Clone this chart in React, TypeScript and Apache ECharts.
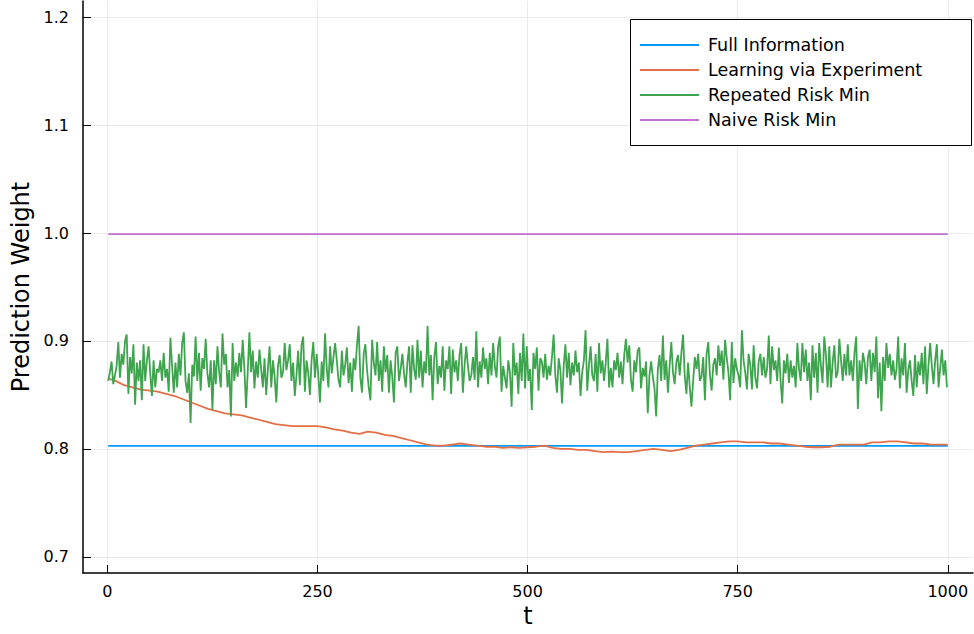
import React, { useEffect, useRef } from "react";
import * as echarts from "echarts";

const FONT = "DejaVu Sans";

const seriesNames = ["Full Information", "Learning via Experiment", "Repeated Risk Min", "Naive Risk Min"];
const seriesColors = ["#009AFA", "#E36F47", "#3EA44E", "#C271D2"];

const xTicks = [0, 250, 500, 750, 1000];
const yTicks = [0.7, 0.8, 0.9, 1.0, 1.1, 1.2];

const fullInfoT = [1, 1000];
const fullInfoV = [0.8027, 0.8027];

const naiveT = [1, 1000];
const naiveV = [0.999, 0.999];

const learningT = [
  1, 10, 20, 30, 40, 50, 60, 70, 80, 90, 100, 110, 120, 130, 140, 150, 160, 170, 180, 190,
  200, 210, 220, 230, 240, 250, 260, 270, 280, 290, 300, 310, 320, 330, 340, 350, 360, 370, 380, 390,
  400, 410, 420, 430, 440, 450, 460, 470, 480, 490, 500, 510, 520, 530, 540, 550, 560, 570, 580, 590,
  600, 610, 620, 630, 640, 650, 660, 670, 680, 690, 700, 710, 720, 730, 740, 750, 760, 770, 780, 790,
  800, 810, 820, 830, 840, 850, 860, 870, 880, 890, 900, 910, 920, 930, 940, 950, 960, 970, 980, 990, 1000,
];
const learningV = [
  0.865, 0.863, 0.859, 0.857, 0.855, 0.854, 0.853, 0.851, 0.849, 0.846, 0.843, 0.840, 0.837, 0.835, 0.833, 0.832, 0.831, 0.829, 0.827, 0.825,
  0.823, 0.822, 0.821, 0.821, 0.821, 0.821, 0.820, 0.818, 0.817, 0.815, 0.814, 0.816, 0.815, 0.813, 0.812, 0.810, 0.808, 0.806, 0.804, 0.803,
  0.803, 0.804, 0.805, 0.804, 0.803, 0.802, 0.802, 0.801, 0.8015, 0.801, 0.8015, 0.802, 0.803, 0.801, 0.800, 0.800, 0.799, 0.799, 0.798, 0.797,
  0.7975, 0.797, 0.797, 0.798, 0.799, 0.800, 0.799, 0.798, 0.799, 0.801, 0.803, 0.804, 0.805, 0.806, 0.807, 0.807, 0.806, 0.806, 0.806, 0.805,
  0.805, 0.804, 0.803, 0.802, 0.8015, 0.8015, 0.802, 0.804, 0.804, 0.804, 0.804, 0.806, 0.806, 0.807, 0.807, 0.806, 0.805, 0.805, 0.804, 0.804, 0.804,
];

// Repeated Risk Min read at t = 1, 3, 5, ..., 999
const repeatedFirstT = 1;
const repeatedStepT = 2;
const repeatedV = [
  0.863, 0.871, 0.881, 0.860, 0.868, 0.877, 0.899, 0.866, 0.888, 0.878,
  0.900, 0.906, 0.851, 0.885, 0.870, 0.897, 0.841, 0.880, 0.863, 0.882,
  0.845, 0.897, 0.863, 0.882, 0.895, 0.870, 0.849, 0.882, 0.857, 0.874,
  0.871, 0.882, 0.863, 0.889, 0.866, 0.874, 0.853, 0.903, 0.877, 0.852,
  0.880, 0.857, 0.888, 0.868, 0.898, 0.908, 0.863, 0.852, 0.870, 0.824,
  0.878, 0.867, 0.904, 0.863, 0.889, 0.854, 0.884, 0.874, 0.902, 0.870,
  0.857, 0.882, 0.836, 0.882, 0.860, 0.895, 0.871, 0.857, 0.907, 0.878,
  0.888, 0.857, 0.873, 0.830, 0.898, 0.863, 0.880, 0.867, 0.889, 0.871,
  0.901, 0.875, 0.838, 0.871, 0.908, 0.871, 0.891, 0.856, 0.881, 0.866,
  0.892, 0.874, 0.857, 0.884, 0.850, 0.874, 0.895, 0.857, 0.882, 0.867,
  0.843, 0.877, 0.887, 0.866, 0.871, 0.898, 0.873, 0.882, 0.897, 0.863,
  0.880, 0.849, 0.868, 0.891, 0.859, 0.896, 0.904, 0.853, 0.882, 0.871,
  0.850, 0.882, 0.899, 0.866, 0.888, 0.868, 0.843, 0.881, 0.863, 0.907,
  0.875, 0.857, 0.895, 0.870, 0.885, 0.898, 0.882, 0.864, 0.857, 0.891,
  0.868, 0.878, 0.894, 0.861, 0.880, 0.853, 0.884, 0.873, 0.896, 0.914,
  0.866, 0.852, 0.888, 0.897, 0.873, 0.857, 0.845, 0.901, 0.880, 0.868,
  0.899, 0.863, 0.882, 0.853, 0.895, 0.871, 0.887, 0.852, 0.882, 0.867,
  0.843, 0.889, 0.895, 0.863, 0.874, 0.888, 0.870, 0.857, 0.880, 0.895,
  0.852, 0.896, 0.874, 0.864, 0.901, 0.866, 0.891, 0.857, 0.881, 0.870,
  0.914, 0.868, 0.887, 0.845, 0.885, 0.899, 0.860, 0.877, 0.866, 0.895,
  0.854, 0.882, 0.874, 0.895, 0.851, 0.892, 0.871, 0.882, 0.863, 0.887,
  0.898, 0.852, 0.877, 0.895, 0.877, 0.863, 0.868, 0.885, 0.864, 0.909,
  0.857, 0.881, 0.866, 0.894, 0.874, 0.884, 0.860, 0.889, 0.868, 0.898,
  0.877, 0.866, 0.895, 0.904, 0.853, 0.877, 0.866, 0.856, 0.882, 0.871,
  0.839, 0.898, 0.868, 0.880, 0.851, 0.889, 0.863, 0.907, 0.856, 0.895,
  0.863, 0.874, 0.836, 0.889, 0.874, 0.894, 0.854, 0.884, 0.881, 0.866,
  0.888, 0.864, 0.877, 0.868, 0.885, 0.906, 0.868, 0.852, 0.884, 0.873,
  0.842, 0.877, 0.897, 0.866, 0.889, 0.859, 0.880, 0.868, 0.891, 0.871,
  0.880, 0.849, 0.871, 0.882, 0.910, 0.854, 0.877, 0.895, 0.868, 0.863,
  0.888, 0.853, 0.898, 0.870, 0.882, 0.863, 0.880, 0.902, 0.857, 0.875,
  0.857, 0.882, 0.873, 0.889, 0.866, 0.881, 0.860, 0.887, 0.902, 0.880,
  0.896, 0.864, 0.853, 0.882, 0.871, 0.891, 0.894, 0.856, 0.875, 0.867,
  0.881, 0.833, 0.868, 0.881, 0.867, 0.856, 0.830, 0.874, 0.887, 0.863,
  0.905, 0.864, 0.882, 0.852, 0.877, 0.899, 0.871, 0.860, 0.880, 0.887,
  0.868, 0.889, 0.906, 0.868, 0.851, 0.880, 0.857, 0.839, 0.863, 0.885,
  0.874, 0.888, 0.863, 0.867, 0.885, 0.845, 0.888, 0.899, 0.868, 0.854,
  0.878, 0.884, 0.868, 0.896, 0.877, 0.891, 0.864, 0.901, 0.884, 0.871,
  0.845, 0.899, 0.861, 0.884, 0.874, 0.868, 0.857, 0.910, 0.882, 0.871,
  0.855, 0.888, 0.878, 0.855, 0.896, 0.866, 0.856, 0.881, 0.888, 0.868,
  0.885, 0.866, 0.874, 0.905, 0.860, 0.895, 0.873, 0.882, 0.863, 0.894,
  0.864, 0.842, 0.882, 0.870, 0.888, 0.861, 0.882, 0.866, 0.877, 0.857,
  0.898, 0.874, 0.863, 0.898, 0.871, 0.892, 0.863, 0.880, 0.845, 0.896,
  0.866, 0.889, 0.852, 0.898, 0.877, 0.861, 0.904, 0.887, 0.857, 0.895,
  0.857, 0.880, 0.896, 0.866, 0.871, 0.902, 0.882, 0.863, 0.888, 0.868,
  0.897, 0.868, 0.882, 0.863, 0.889, 0.904, 0.837, 0.882, 0.863, 0.889,
  0.880, 0.860, 0.885, 0.892, 0.863, 0.889, 0.871, 0.904, 0.847, 0.880,
  0.835, 0.885, 0.863, 0.898, 0.875, 0.888, 0.868, 0.882, 0.864, 0.874,
  0.904, 0.856, 0.884, 0.868, 0.898, 0.852, 0.873, 0.882, 0.863, 0.849,
  0.887, 0.857, 0.881, 0.868, 0.889, 0.860, 0.895, 0.851, 0.877, 0.898,
  0.877, 0.860, 0.882, 0.897, 0.857, 0.875, 0.892, 0.868, 0.882, 0.857,
];

const xMin = -29;
const xMax = 1030;
const yMin = 0.685;
const yMax = 1.215;

function pairs(ts: number[], vs: number[]) {
  return vs.map((v, i) => [ts[i], v]);
}

export default function App() {
  const ref = useRef<HTMLDivElement>(null);

  useEffect(() => {
    if (!ref.current) return;
    const chart = echarts.init(ref.current, null, { renderer: "svg" });

    const repeatedData = repeatedV.map((v, i) => [repeatedFirstT + i * repeatedStepT, v]);
    const seriesData = [
      pairs(fullInfoT, fullInfoV),
      pairs(learningT, learningV),
      repeatedData,
      pairs(naiveT, naiveV),
    ];

    const option: any = {
      animation: false,
      backgroundColor: "#ffffff",
      textStyle: { fontFamily: FONT },
      grid: { left: 83, right: 1, top: 1, bottom: 61, containLabel: false, outerBoundsMode: "none" },
      xAxis: {
        type: "value",
        min: xMin,
        max: xMax,
        name: "t",
        nameLocation: "middle",
        nameGap: 31,
        nameTextStyle: { fontSize: 24, color: "#000", fontFamily: FONT },
        axisLine: { show: true, onZero: false, lineStyle: { color: "#000", width: 1.5 } },
        axisTick: { show: true, inside: true, length: 8, customValues: xTicks, lineStyle: { color: "#000", width: 1 } },
        axisLabel: {
          customValues: xTicks,
          fontSize: 16,
          color: "#000",
          margin: 10,
          fontFamily: FONT,
          formatter: (v: number) => String(v),
        },
        splitLine: { show: true, lineStyle: { color: "#ebebeb", width: 1 } },
      },
      yAxis: {
        type: "value",
        min: yMin,
        max: yMax,
        name: "Prediction Weight",
        nameLocation: "middle",
        nameRotate: 90,
        nameGap: 41,
        nameTextStyle: { fontSize: 24, color: "#000", fontFamily: FONT },
        axisLine: { show: true, onZero: false, lineStyle: { color: "#000", width: 1.5 } },
        axisTick: { show: true, inside: true, length: 8, customValues: yTicks, lineStyle: { color: "#000", width: 1 } },
        axisLabel: {
          customValues: yTicks,
          fontSize: 16,
          color: "#000",
          margin: 14,
          fontFamily: FONT,
          formatter: (v: number) => v.toFixed(1),
        },
        splitLine: { show: true, lineStyle: { color: "#ebebeb", width: 1 } },
      },
      legend: {
        orient: "vertical",
        left: 640,
        top: 35,
        padding: 0,
        itemWidth: 59,
        itemHeight: 2,
        itemGap: 5,
        icon: "rect",
        data: seriesNames,
        textStyle: { fontSize: 17.5, color: "#000", fontFamily: FONT, lineHeight: 20, padding: [0, 0, 0, 4] },
        z: 10,
      },
      graphic: [
        {
          type: "rect",
          z: 5,
          shape: { x: 630.5, y: 19.5, width: 341, height: 126 },
          style: { fill: "#ffffff", stroke: "#000000", lineWidth: 1 },
        },
      ],
      series: seriesNames.map((name, i) => ({
        name,
        type: "line",
        data: seriesData[i],
        showSymbol: false,
        symbol: "none",
        color: seriesColors[i],
        lineStyle: { color: seriesColors[i], width: 1.8 },
        z: 2 + i,
      })),
    };

    chart.setOption(option);
    return () => chart.dispose();
  }, []);

  return (
    <div
      ref={ref}
      style={{ position: "fixed", left: 0, top: 0, width: 974, height: 634, background: "#fff" }}
    />
  );
}
